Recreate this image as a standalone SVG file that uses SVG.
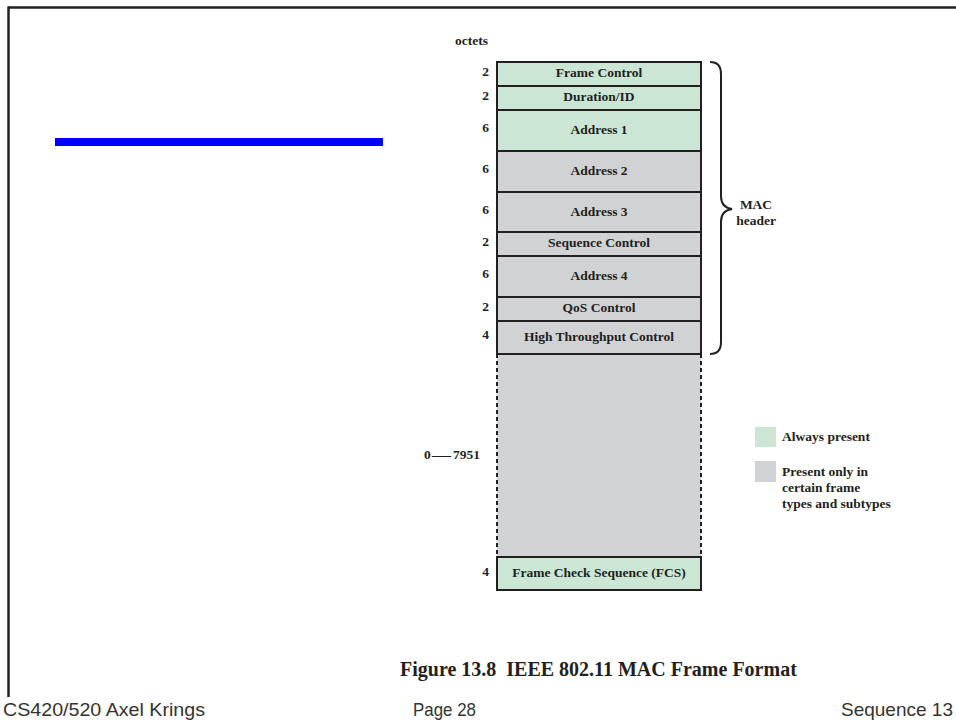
<svg xmlns="http://www.w3.org/2000/svg" width="956" height="721" viewBox="0 0 956 721">
<style>
.lbl{font-family:"Liberation Serif","Times New Roman",serif;font-weight:bold;font-size:13.5px;fill:#231f20;}
.num{font-family:"Liberation Serif","Times New Roman",serif;font-weight:bold;font-size:13.5px;fill:#231f20;text-anchor:end;}
.mid{text-anchor:middle;}
.g{fill:#cbe6d5;stroke:#231f20;stroke-width:2;}
.s{fill:#d1d2d4;stroke:#231f20;stroke-width:2;}
.foot{font-family:"Liberation Sans",Arial,sans-serif;font-size:19px;fill:#333333;}
</style>
<rect width="956" height="721" fill="#ffffff"/>
<g id="border">
<line x1="8" y1="7.5" x2="956" y2="7.5" stroke="#222" stroke-width="2.5"/>
<line x1="8.5" y1="6.5" x2="8.5" y2="697" stroke="#222" stroke-width="2.5"/>
</g>
<rect id="bluebar" x="55" y="138" width="328" height="8" fill="#0000ff"/>
<text class="lbl" x="455" y="45">octets</text>
<g id="frame-control"><rect class="g" x="497" y="62" width="204" height="24"/><text class="lbl mid" x="599" y="77">Frame Control</text><text class="num" x="489" y="75.5">2</text></g>
<g id="duration"><rect class="g" x="497" y="86" width="204" height="24"/><text class="lbl mid" x="599" y="101">Duration/ID</text><text class="num" x="489" y="99.5">2</text></g>
<g id="address1"><rect class="g" x="497" y="110" width="204" height="41"/><text class="lbl mid" x="599" y="134">Address 1</text><text class="num" x="489" y="132">6</text></g>
<g id="address2"><rect class="s" x="497" y="151" width="204" height="41"/><text class="lbl mid" x="599" y="175">Address 2</text><text class="num" x="489" y="173">6</text></g>
<g id="address3"><rect class="s" x="497" y="192" width="204" height="40"/><text class="lbl mid" x="599" y="215.5">Address 3</text><text class="num" x="489" y="213.5">6</text></g>
<g id="sequence-control"><rect class="s" x="497" y="232" width="204" height="24"/><text class="lbl mid" x="599" y="247">Sequence Control</text><text class="num" x="489" y="245.5">2</text></g>
<g id="address4"><rect class="s" x="497" y="256" width="204" height="41"/><text class="lbl mid" x="599" y="280">Address 4</text><text class="num" x="489" y="278">6</text></g>
<g id="qos"><rect class="s" x="497" y="297" width="204" height="24"/><text class="lbl mid" x="599" y="312">QoS Control</text><text class="num" x="489" y="310.5">2</text></g>
<g id="ht-control"><rect class="s" x="497" y="321" width="204" height="33"/><text class="lbl mid" x="599" y="341">High Throughput Control</text><text class="num" x="489" y="339">4</text></g>
<g id="body">
<rect x="497" y="354" width="204" height="203" fill="#d1d2d4"/>
<line x1="497" y1="354" x2="497" y2="557" stroke="#231f20" stroke-width="2" stroke-dasharray="4,3"/>
<line x1="701" y1="354" x2="701" y2="557" stroke="#231f20" stroke-width="2" stroke-dasharray="4,3"/>
<line x1="496" y1="354" x2="702" y2="354" stroke="#231f20" stroke-width="2"/>
<text class="lbl" x="424" y="459">0</text>
<text class="lbl" x="432" y="459" textLength="19" lengthAdjust="spacingAndGlyphs">—</text>
<text class="lbl" x="453" y="459">7951</text>
</g>
<g id="fcs"><rect class="g" x="497" y="557" width="204" height="33"/><text class="lbl mid" x="599" y="577">Frame Check Sequence (FCS)</text><text class="num" x="489" y="576">4</text></g>
<g id="connectors">
<path d="M710,62 C718,62 721,66 721,74 L721,196 C721,204 725,208 732,209 C725,210 721,214 721,222 L721,342 C721,350 718,354 710,354" fill="none" stroke="#231f20" stroke-width="2"/>
</g>
<g id="mac-header-label">
<text class="lbl mid" x="756" y="209">MAC</text>
<text class="lbl mid" x="756" y="225">header</text>
</g>
<g id="legend">
<rect x="755" y="427" width="21" height="20" fill="#cbe6d5"/>
<text class="lbl" x="782" y="441">Always present</text>
<rect x="755" y="461" width="21" height="21" fill="#d1d2d4"/>
<text class="lbl" x="782" y="476">Present only in</text>
<text class="lbl" x="782" y="492">certain frame</text>
<text class="lbl" x="782" y="508">types and subtypes</text>
</g>
<text x="400" y="676" font-family="'Liberation Serif','Times New Roman',serif" font-weight="bold" font-size="20" fill="#231f20" xml:space="preserve">Figure 13.8  IEEE 802.11 MAC Frame Format</text>
<text class="foot" x="3" y="716" textLength="202" lengthAdjust="spacingAndGlyphs">CS420/520 Axel Krings</text>
<text class="foot" x="413" y="716" textLength="63" lengthAdjust="spacingAndGlyphs">Page 28</text>
<text class="foot" x="953" y="716" text-anchor="end">Sequence 13</text>
</svg>
